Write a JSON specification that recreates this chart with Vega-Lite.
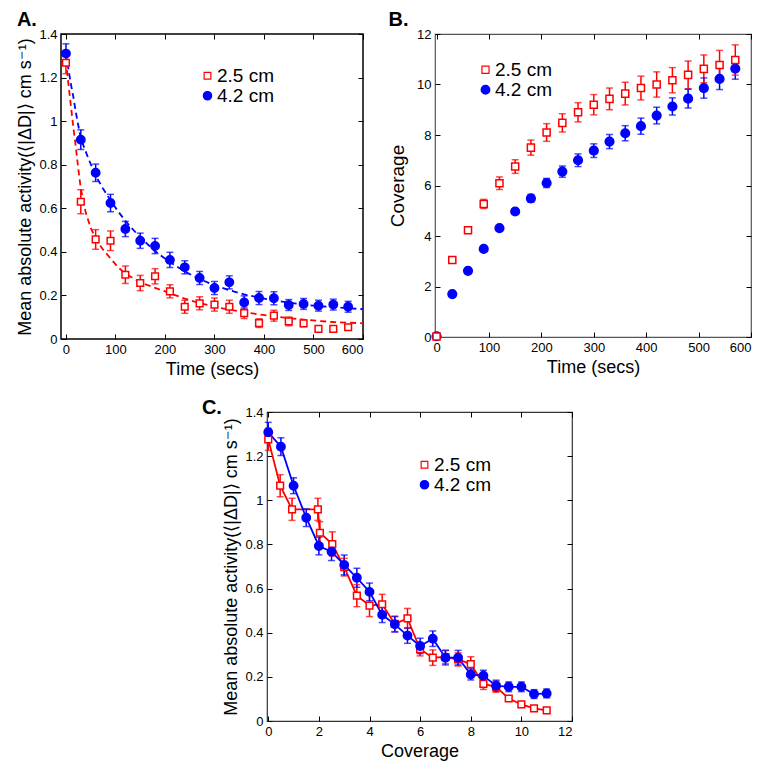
{
  "$schema": "https://vega.github.io/schema/vega-lite/v6.json",
  "padding": {"left": 16, "top": 9, "right": 5, "bottom": 5},
  "background": "white",
  "config": {
    "font": "Liberation Sans",
    "axis": {"domain": false, "grid": false, "labelFontSize": 13, "labelColor": "black", "titleFontSize": 18, "titleFontWeight": "normal", "titleColor": "black", "tickColor": "black", "tickSize": -5, "tickWidth": 1, "labelPadding": 9, "titlePadding": 4},
    "title": {"fontSize": 20, "fontWeight": "bold", "anchor": "start", "color": "black"},
    "legend": {"labelFontSize": 19, "labelColor": "black", "symbolStrokeWidth": 1.2, "symbolOpacity": 1, "rowPadding": 0, "clipHeight": 17.5, "labelOffset": 0, "padding": 0}
  },
  "datasets": {
    "tA": [
      {"t": 0, "s": "4.2 cm", "y": 1.31, "lo": 1.265, "hi": 1.355},
      {"t": 30, "s": "4.2 cm", "y": 0.915, "lo": 0.87, "hi": 0.96},
      {"t": 60, "s": "4.2 cm", "y": 0.763, "lo": 0.723, "hi": 0.803},
      {"t": 90, "s": "4.2 cm", "y": 0.624, "lo": 0.584, "hi": 0.664},
      {"t": 120, "s": "4.2 cm", "y": 0.505, "lo": 0.47, "hi": 0.54},
      {"t": 150, "s": "4.2 cm", "y": 0.451, "lo": 0.416, "hi": 0.486},
      {"t": 180, "s": "4.2 cm", "y": 0.427, "lo": 0.392, "hi": 0.462},
      {"t": 210, "s": "4.2 cm", "y": 0.363, "lo": 0.328, "hi": 0.398},
      {"t": 240, "s": "4.2 cm", "y": 0.329, "lo": 0.299, "hi": 0.359},
      {"t": 270, "s": "4.2 cm", "y": 0.28, "lo": 0.25, "hi": 0.31},
      {"t": 300, "s": "4.2 cm", "y": 0.234, "lo": 0.204, "hi": 0.264},
      {"t": 330, "s": "4.2 cm", "y": 0.26, "lo": 0.23, "hi": 0.29},
      {"t": 360, "s": "4.2 cm", "y": 0.168, "lo": 0.138, "hi": 0.198},
      {"t": 390, "s": "4.2 cm", "y": 0.188, "lo": 0.158, "hi": 0.218},
      {"t": 420, "s": "4.2 cm", "y": 0.187, "lo": 0.157, "hi": 0.217},
      {"t": 450, "s": "4.2 cm", "y": 0.156, "lo": 0.131, "hi": 0.181},
      {"t": 480, "s": "4.2 cm", "y": 0.161, "lo": 0.136, "hi": 0.186},
      {"t": 510, "s": "4.2 cm", "y": 0.153, "lo": 0.128, "hi": 0.178},
      {"t": 540, "s": "4.2 cm", "y": 0.158, "lo": 0.133, "hi": 0.183},
      {"t": 570, "s": "4.2 cm", "y": 0.148, "lo": 0.123, "hi": 0.173},
      {"t": 0, "s": "2.5 cm", "y": 1.268, "lo": 1.218, "hi": 1.318},
      {"t": 30, "s": "2.5 cm", "y": 0.63, "lo": 0.575, "hi": 0.685},
      {"t": 60, "s": "2.5 cm", "y": 0.457, "lo": 0.412, "hi": 0.502},
      {"t": 90, "s": "2.5 cm", "y": 0.451, "lo": 0.406, "hi": 0.496},
      {"t": 120, "s": "2.5 cm", "y": 0.295, "lo": 0.255, "hi": 0.335},
      {"t": 150, "s": "2.5 cm", "y": 0.257, "lo": 0.222, "hi": 0.292},
      {"t": 180, "s": "2.5 cm", "y": 0.288, "lo": 0.253, "hi": 0.323},
      {"t": 210, "s": "2.5 cm", "y": 0.219, "lo": 0.189, "hi": 0.249},
      {"t": 240, "s": "2.5 cm", "y": 0.148, "lo": 0.118, "hi": 0.178},
      {"t": 270, "s": "2.5 cm", "y": 0.164, "lo": 0.134, "hi": 0.194},
      {"t": 300, "s": "2.5 cm", "y": 0.158, "lo": 0.128, "hi": 0.188},
      {"t": 330, "s": "2.5 cm", "y": 0.148, "lo": 0.118, "hi": 0.178},
      {"t": 360, "s": "2.5 cm", "y": 0.119, "lo": 0.094, "hi": 0.144},
      {"t": 390, "s": "2.5 cm", "y": 0.073, "lo": 0.053, "hi": 0.093},
      {"t": 420, "s": "2.5 cm", "y": 0.107, "lo": 0.082, "hi": 0.132},
      {"t": 450, "s": "2.5 cm", "y": 0.081, "lo": 0.061, "hi": 0.101},
      {"t": 480, "s": "2.5 cm", "y": 0.072, "lo": 0.057, "hi": 0.087},
      {"t": 510, "s": "2.5 cm", "y": 0.046, "lo": 0.036, "hi": 0.056},
      {"t": 540, "s": "2.5 cm", "y": 0.046, "lo": 0.036, "hi": 0.056},
      {"t": 570, "s": "2.5 cm", "y": 0.054, "lo": 0.044, "hi": 0.064}
    ],
    "fitA": [
      {"t": 0, "s": "4.2 cm", "y": 1.31}, {"t": 5, "s": "4.2 cm", "y": 1.24}, {"t": 10, "s": "4.2 cm", "y": 1.17}, {"t": 15, "s": "4.2 cm", "y": 1.11}, {"t": 20, "s": "4.2 cm", "y": 1.04}, {"t": 25, "s": "4.2 cm", "y": 0.98}, {"t": 30, "s": "4.2 cm", "y": 0.92}, {"t": 45, "s": "4.2 cm", "y": 0.83}, {"t": 60, "s": "4.2 cm", "y": 0.75}, {"t": 75, "s": "4.2 cm", "y": 0.69}, {"t": 90, "s": "4.2 cm", "y": 0.636}, {"t": 105, "s": "4.2 cm", "y": 0.587}, {"t": 120, "s": "4.2 cm", "y": 0.542}, {"t": 150, "s": "4.2 cm", "y": 0.466}, {"t": 180, "s": "4.2 cm", "y": 0.403}, {"t": 210, "s": "4.2 cm", "y": 0.353}, {"t": 240, "s": "4.2 cm", "y": 0.31}, {"t": 270, "s": "4.2 cm", "y": 0.275}, {"t": 300, "s": "4.2 cm", "y": 0.247}, {"t": 330, "s": "4.2 cm", "y": 0.224}, {"t": 360, "s": "4.2 cm", "y": 0.205}, {"t": 390, "s": "4.2 cm", "y": 0.19}, {"t": 420, "s": "4.2 cm", "y": 0.177}, {"t": 450, "s": "4.2 cm", "y": 0.167}, {"t": 480, "s": "4.2 cm", "y": 0.158}, {"t": 510, "s": "4.2 cm", "y": 0.151}, {"t": 540, "s": "4.2 cm", "y": 0.146}, {"t": 570, "s": "4.2 cm", "y": 0.141}, {"t": 600, "s": "4.2 cm", "y": 0.137},
      {"t": 0, "s": "2.5 cm", "y": 1.28}, {"t": 5, "s": "2.5 cm", "y": 1.17}, {"t": 10, "s": "2.5 cm", "y": 1.07}, {"t": 15, "s": "2.5 cm", "y": 0.97}, {"t": 20, "s": "2.5 cm", "y": 0.88}, {"t": 25, "s": "2.5 cm", "y": 0.78}, {"t": 30, "s": "2.5 cm", "y": 0.69}, {"t": 40, "s": "2.5 cm", "y": 0.58}, {"t": 50, "s": "2.5 cm", "y": 0.51}, {"t": 60, "s": "2.5 cm", "y": 0.46}, {"t": 75, "s": "2.5 cm", "y": 0.41}, {"t": 90, "s": "2.5 cm", "y": 0.37}, {"t": 105, "s": "2.5 cm", "y": 0.33}, {"t": 120, "s": "2.5 cm", "y": 0.3}, {"t": 135, "s": "2.5 cm", "y": 0.28}, {"t": 150, "s": "2.5 cm", "y": 0.26}, {"t": 180, "s": "2.5 cm", "y": 0.235}, {"t": 210, "s": "2.5 cm", "y": 0.21}, {"t": 240, "s": "2.5 cm", "y": 0.185}, {"t": 270, "s": "2.5 cm", "y": 0.165}, {"t": 300, "s": "2.5 cm", "y": 0.148}, {"t": 330, "s": "2.5 cm", "y": 0.135}, {"t": 360, "s": "2.5 cm", "y": 0.123}, {"t": 390, "s": "2.5 cm", "y": 0.113}, {"t": 420, "s": "2.5 cm", "y": 0.104}, {"t": 450, "s": "2.5 cm", "y": 0.096}, {"t": 480, "s": "2.5 cm", "y": 0.089}, {"t": 510, "s": "2.5 cm", "y": 0.083}, {"t": 540, "s": "2.5 cm", "y": 0.078}, {"t": 570, "s": "2.5 cm", "y": 0.075}, {"t": 600, "s": "2.5 cm", "y": 0.072}
    ],
    "tB": [
      {"t": 0, "s": "4.2 cm", "y": 0.03, "lo": 0.03, "hi": 0.03},
      {"t": 30, "s": "4.2 cm", "y": 1.7, "lo": 1.67, "hi": 1.73},
      {"t": 60, "s": "4.2 cm", "y": 2.62, "lo": 2.57, "hi": 2.67},
      {"t": 90, "s": "4.2 cm", "y": 3.49, "lo": 3.44, "hi": 3.54},
      {"t": 120, "s": "4.2 cm", "y": 4.31, "lo": 4.25, "hi": 4.37},
      {"t": 150, "s": "4.2 cm", "y": 4.97, "lo": 4.87, "hi": 5.07},
      {"t": 180, "s": "4.2 cm", "y": 5.49, "lo": 5.34, "hi": 5.64},
      {"t": 210, "s": "4.2 cm", "y": 6.1, "lo": 5.92, "hi": 6.28},
      {"t": 240, "s": "4.2 cm", "y": 6.55, "lo": 6.33, "hi": 6.77},
      {"t": 270, "s": "4.2 cm", "y": 7.0, "lo": 6.75, "hi": 7.25},
      {"t": 300, "s": "4.2 cm", "y": 7.38, "lo": 7.11, "hi": 7.65},
      {"t": 330, "s": "4.2 cm", "y": 7.74, "lo": 7.46, "hi": 8.02},
      {"t": 360, "s": "4.2 cm", "y": 8.07, "lo": 7.77, "hi": 8.37},
      {"t": 390, "s": "4.2 cm", "y": 8.35, "lo": 8.03, "hi": 8.67},
      {"t": 420, "s": "4.2 cm", "y": 8.77, "lo": 8.44, "hi": 9.1},
      {"t": 450, "s": "4.2 cm", "y": 9.13, "lo": 8.79, "hi": 9.47},
      {"t": 480, "s": "4.2 cm", "y": 9.44, "lo": 9.07, "hi": 9.81},
      {"t": 510, "s": "4.2 cm", "y": 9.86, "lo": 9.46, "hi": 10.26},
      {"t": 540, "s": "4.2 cm", "y": 10.22, "lo": 9.8, "hi": 10.64},
      {"t": 570, "s": "4.2 cm", "y": 10.63, "lo": 10.21, "hi": 11.05},
      {"t": 0, "s": "2.5 cm", "y": 0.02, "lo": 0.02, "hi": 0.02},
      {"t": 30, "s": "2.5 cm", "y": 3.05, "lo": 3.0, "hi": 3.1},
      {"t": 60, "s": "2.5 cm", "y": 4.23, "lo": 4.13, "hi": 4.33},
      {"t": 90, "s": "2.5 cm", "y": 5.27, "lo": 5.09, "hi": 5.45},
      {"t": 120, "s": "2.5 cm", "y": 6.09, "lo": 5.84, "hi": 6.34},
      {"t": 150, "s": "2.5 cm", "y": 6.75, "lo": 6.48, "hi": 7.02},
      {"t": 180, "s": "2.5 cm", "y": 7.5, "lo": 7.2, "hi": 7.8},
      {"t": 210, "s": "2.5 cm", "y": 8.1, "lo": 7.75, "hi": 8.45},
      {"t": 240, "s": "2.5 cm", "y": 8.48, "lo": 8.12, "hi": 8.84},
      {"t": 270, "s": "2.5 cm", "y": 8.9, "lo": 8.52, "hi": 9.28},
      {"t": 300, "s": "2.5 cm", "y": 9.2, "lo": 8.8, "hi": 9.6},
      {"t": 330, "s": "2.5 cm", "y": 9.43, "lo": 9.0, "hi": 9.86},
      {"t": 360, "s": "2.5 cm", "y": 9.64, "lo": 9.19, "hi": 10.09},
      {"t": 390, "s": "2.5 cm", "y": 9.86, "lo": 9.39, "hi": 10.33},
      {"t": 420, "s": "2.5 cm", "y": 10.0, "lo": 9.5, "hi": 10.5},
      {"t": 450, "s": "2.5 cm", "y": 10.17, "lo": 9.67, "hi": 10.67},
      {"t": 480, "s": "2.5 cm", "y": 10.38, "lo": 9.83, "hi": 10.93},
      {"t": 510, "s": "2.5 cm", "y": 10.62, "lo": 10.07, "hi": 11.17},
      {"t": 540, "s": "2.5 cm", "y": 10.77, "lo": 10.19, "hi": 11.35},
      {"t": 570, "s": "2.5 cm", "y": 10.97, "lo": 10.37, "hi": 11.57}
    ],
    "cC": [
      {"c": 0, "s": "2.5 cm", "y": 1.276, "lo": 1.226, "hi": 1.326},
      {"c": 0.47, "s": "2.5 cm", "y": 1.066, "lo": 1.016, "hi": 1.116},
      {"c": 0.94, "s": "2.5 cm", "y": 0.959, "lo": 0.909, "hi": 1.009},
      {"c": 1.96, "s": "2.5 cm", "y": 0.959, "lo": 0.909, "hi": 1.009},
      {"c": 2.04, "s": "2.5 cm", "y": 0.853, "lo": 0.803, "hi": 0.903},
      {"c": 2.53, "s": "2.5 cm", "y": 0.802, "lo": 0.747, "hi": 0.857},
      {"c": 3.0, "s": "2.5 cm", "y": 0.697, "lo": 0.657, "hi": 0.737},
      {"c": 3.5, "s": "2.5 cm", "y": 0.568, "lo": 0.518, "hi": 0.618},
      {"c": 4.0, "s": "2.5 cm", "y": 0.523, "lo": 0.473, "hi": 0.573},
      {"c": 4.5, "s": "2.5 cm", "y": 0.529, "lo": 0.484, "hi": 0.574},
      {"c": 5.0, "s": "2.5 cm", "y": 0.44, "lo": 0.405, "hi": 0.475},
      {"c": 5.5, "s": "2.5 cm", "y": 0.465, "lo": 0.42, "hi": 0.51},
      {"c": 6.0, "s": "2.5 cm", "y": 0.325, "lo": 0.295, "hi": 0.355},
      {"c": 6.5, "s": "2.5 cm", "y": 0.287, "lo": 0.252, "hi": 0.322},
      {"c": 7.0, "s": "2.5 cm", "y": 0.29, "lo": 0.26, "hi": 0.32},
      {"c": 7.5, "s": "2.5 cm", "y": 0.279, "lo": 0.249, "hi": 0.309},
      {"c": 8.0, "s": "2.5 cm", "y": 0.258, "lo": 0.225, "hi": 0.291},
      {"c": 8.5, "s": "2.5 cm", "y": 0.168, "lo": 0.143, "hi": 0.193},
      {"c": 9.0, "s": "2.5 cm", "y": 0.155, "lo": 0.13, "hi": 0.18},
      {"c": 9.5, "s": "2.5 cm", "y": 0.102, "lo": 0.09, "hi": 0.114},
      {"c": 10.0, "s": "2.5 cm", "y": 0.075, "lo": 0.065, "hi": 0.085},
      {"c": 10.5, "s": "2.5 cm", "y": 0.057, "lo": 0.049, "hi": 0.065},
      {"c": 11.0, "s": "2.5 cm", "y": 0.048, "lo": 0.042, "hi": 0.054},
      {"c": 0, "s": "4.2 cm", "y": 1.308, "lo": 1.263, "hi": 1.353},
      {"c": 0.5, "s": "4.2 cm", "y": 1.243, "lo": 1.203, "hi": 1.283},
      {"c": 1.0, "s": "4.2 cm", "y": 1.066, "lo": 1.03, "hi": 1.102},
      {"c": 1.5, "s": "4.2 cm", "y": 0.921, "lo": 0.881, "hi": 0.961},
      {"c": 2.0, "s": "4.2 cm", "y": 0.793, "lo": 0.753, "hi": 0.833},
      {"c": 2.5, "s": "4.2 cm", "y": 0.767, "lo": 0.727, "hi": 0.807},
      {"c": 3.0, "s": "4.2 cm", "y": 0.707, "lo": 0.662, "hi": 0.752},
      {"c": 3.5, "s": "4.2 cm", "y": 0.649, "lo": 0.606, "hi": 0.692},
      {"c": 4.0, "s": "4.2 cm", "y": 0.585, "lo": 0.545, "hi": 0.625},
      {"c": 4.5, "s": "4.2 cm", "y": 0.481, "lo": 0.446, "hi": 0.516},
      {"c": 5.0, "s": "4.2 cm", "y": 0.438, "lo": 0.403, "hi": 0.473},
      {"c": 5.5, "s": "4.2 cm", "y": 0.387, "lo": 0.352, "hi": 0.422},
      {"c": 6.0, "s": "4.2 cm", "y": 0.34, "lo": 0.305, "hi": 0.375},
      {"c": 6.5, "s": "4.2 cm", "y": 0.373, "lo": 0.338, "hi": 0.408},
      {"c": 7.0, "s": "4.2 cm", "y": 0.287, "lo": 0.254, "hi": 0.32},
      {"c": 7.5, "s": "4.2 cm", "y": 0.287, "lo": 0.254, "hi": 0.32},
      {"c": 8.0, "s": "4.2 cm", "y": 0.211, "lo": 0.186, "hi": 0.236},
      {"c": 8.5, "s": "4.2 cm", "y": 0.205, "lo": 0.18, "hi": 0.23},
      {"c": 9.0, "s": "4.2 cm", "y": 0.16, "lo": 0.135, "hi": 0.185},
      {"c": 9.5, "s": "4.2 cm", "y": 0.155, "lo": 0.133, "hi": 0.177},
      {"c": 10.0, "s": "4.2 cm", "y": 0.155, "lo": 0.133, "hi": 0.177},
      {"c": 10.5, "s": "4.2 cm", "y": 0.122, "lo": 0.102, "hi": 0.142},
      {"c": 11.0, "s": "4.2 cm", "y": 0.125, "lo": 0.105, "hi": 0.145}
    ]
  },
  "vconcat": [
    {
      "hconcat": [
        {
          "title": {"text": "A.", "offset": -2},
          "width": 302, "height": 305,
          "view": {"stroke": "black", "strokeWidth": 1.5},
          "layer": [
            {
              "data": {"name": "fitA"},
              "mark": {"type": "line", "strokeDash": [6, 4], "strokeWidth": 1.8},
              "encoding": {
                "x": {"field": "t", "type": "quantitative", "scale": {"domain": [-10, 600], "nice": false}, "axis": {"orient": "bottom", "values": [0, 100, 200, 300, 400, 500, 600], "title": "Time (secs)"}},
                "y": {"field": "y", "type": "quantitative", "scale": {"domain": [0, 1.4], "nice": false}, "axis": {"orient": "left", "values": [0, 0.2, 0.4, 0.6, 0.8, 1, 1.2, 1.4], "format": "~g", "title": "Mean absolute activity(⟨|ΔD|⟩ cm s⁻¹)"}},
                "color": {"field": "s", "type": "nominal", "scale": {"range": ["#ff0000", "#0000ff"]}, "legend": null}
              }
            },
            {
              "data": {"name": "tA"},
              "mark": {"type": "rule", "strokeWidth": 1.5},
              "encoding": {
                "x": {"field": "t", "type": "quantitative", "axis": {"orient": "top", "values": [0, 100, 200, 300, 400, 500, 600], "labels": false, "title": null}},
                "y": {"field": "lo", "type": "quantitative", "axis": {"orient": "right", "values": [0, 0.2, 0.4, 0.6, 0.8, 1, 1.2, 1.4], "labels": false, "title": null}},
                "y2": {"field": "hi"},
                "color": {"field": "s", "type": "nominal", "legend": null}
              }
            },
            {
              "data": {"name": "tA"},
              "mark": {"type": "tick", "orient": "horizontal", "size": 7, "thickness": 1.5},
              "encoding": {
                "x": {"field": "t", "type": "quantitative", "axis": null},
                "y": {"field": "lo", "type": "quantitative", "axis": null},
                "color": {"field": "s", "type": "nominal", "legend": null}
              }
            },
            {
              "data": {"name": "tA"},
              "mark": {"type": "tick", "orient": "horizontal", "size": 7, "thickness": 1.5},
              "encoding": {
                "x": {"field": "t", "type": "quantitative", "axis": null},
                "y": {"field": "hi", "type": "quantitative", "axis": null},
                "color": {"field": "s", "type": "nominal", "legend": null}
              }
            },
            {
              "data": {"name": "tA"},
              "mark": {"type": "point", "filled": true, "strokeWidth": 1.5, "opacity": 1},
              "encoding": {
                "x": {"field": "t", "type": "quantitative", "axis": null},
                "y": {"field": "y", "type": "quantitative", "axis": null},
                "shape": {"field": "s", "type": "nominal", "scale": {"domain": ["2.5 cm", "4.2 cm"], "range": ["square", "circle"]}, "legend": {"orient": "none", "title": null, "legendX": 137, "legendY": 33}},
                "fill": {"field": "s", "type": "nominal", "scale": {"domain": ["2.5 cm", "4.2 cm"], "range": ["white", "#0000ff"]}, "legend": {"orient": "none", "title": null, "legendX": 137, "legendY": 33}},
                "stroke": {"field": "s", "type": "nominal", "scale": {"domain": ["2.5 cm", "4.2 cm"], "range": ["#ff0000", "#0000ff"]}, "legend": {"orient": "none", "title": null, "legendX": 137, "legendY": 33}},
                "size": {"field": "s", "type": "nominal", "scale": {"domain": ["2.5 cm", "4.2 cm"], "range": [45, 70]}, "legend": {"orient": "none", "title": null, "legendX": 137, "legendY": 33}}
              }
            }
          ],
          "resolve": {"axis": {"x": "independent", "y": "independent"}}
        },
        {
          "title": {"text": "B.", "offset": -2},
          "width": 316, "height": 303,
          "view": {"stroke": "#555555", "strokeWidth": 1.2},
          "layer": [
            {
              "data": {"name": "tB"},
              "mark": {"type": "rule", "strokeWidth": 1.5},
              "encoding": {
                "x": {"field": "t", "type": "quantitative", "scale": {"domain": [-3, 600], "nice": false}, "axis": {"orient": "bottom", "values": [0, 100, 200, 300, 400, 500, 600], "title": "Time (secs)"}},
                "y": {"field": "lo", "type": "quantitative", "scale": {"domain": [0, 12], "nice": false}, "axis": {"orient": "left", "values": [0, 2, 4, 6, 8, 10, 12], "title": "Coverage", "titleFontSize": 19, "titlePadding": 9}},
                "y2": {"field": "hi"},
                "color": {"field": "s", "type": "nominal", "scale": {"range": ["#ff0000", "#0000ff"]}, "legend": null}
              }
            },
            {
              "data": {"name": "tB"},
              "mark": {"type": "tick", "orient": "horizontal", "size": 7, "thickness": 1.5},
              "encoding": {
                "x": {"field": "t", "type": "quantitative", "axis": {"orient": "top", "values": [0, 100, 200, 300, 400, 500, 600], "labels": false, "title": null}},
                "y": {"field": "lo", "type": "quantitative", "axis": {"orient": "right", "values": [0, 2, 4, 6, 8, 10, 12], "labels": false, "title": null}},
                "color": {"field": "s", "type": "nominal", "legend": null}
              }
            },
            {
              "data": {"name": "tB"},
              "mark": {"type": "tick", "orient": "horizontal", "size": 7, "thickness": 1.5},
              "encoding": {
                "x": {"field": "t", "type": "quantitative", "axis": null},
                "y": {"field": "hi", "type": "quantitative", "axis": null},
                "color": {"field": "s", "type": "nominal", "legend": null}
              }
            },
            {
              "data": {"name": "tB"},
              "mark": {"type": "point", "filled": true, "strokeWidth": 1.5, "opacity": 1},
              "encoding": {
                "x": {"field": "t", "type": "quantitative", "axis": null},
                "y": {"field": "y", "type": "quantitative", "axis": null},
                "shape": {"field": "s", "type": "nominal", "scale": {"domain": ["2.5 cm", "4.2 cm"], "range": ["square", "circle"]}, "legend": {"orient": "none", "title": null, "legendX": 41, "legendY": 27}},
                "fill": {"field": "s", "type": "nominal", "scale": {"domain": ["2.5 cm", "4.2 cm"], "range": ["white", "#0000ff"]}, "legend": {"orient": "none", "title": null, "legendX": 41, "legendY": 27}},
                "stroke": {"field": "s", "type": "nominal", "scale": {"domain": ["2.5 cm", "4.2 cm"], "range": ["#ff0000", "#0000ff"]}, "legend": {"orient": "none", "title": null, "legendX": 41, "legendY": 27}},
                "size": {"field": "s", "type": "nominal", "scale": {"domain": ["2.5 cm", "4.2 cm"], "range": [50, 75]}, "legend": {"orient": "none", "title": null, "legendX": 41, "legendY": 27}}
              }
            }
          ],
          "resolve": {"axis": {"x": "independent", "y": "independent"}}
        }
      ],
      "spacing": 19,
      "resolve": {
        "scale": {"color": "independent", "fill": "independent", "stroke": "independent", "shape": "independent", "size": "independent"},
        "legend": {"color": "independent", "fill": "independent", "stroke": "independent", "shape": "independent", "size": "independent"}
      }
    },
    {
      "hconcat": [
        {
          "width": 130, "height": 20,
          "data": {"values": []},
          "mark": "point",
          "view": {"stroke": null}
        },
        {
          "title": {"text": "C.", "offset": -12, "dx": -21},
          "width": 305, "height": 309,
          "view": {"stroke": "#333333", "strokeWidth": 1.2},
          "layer": [
            {
              "data": {"name": "cC"},
              "mark": {"type": "line", "strokeWidth": 1.8},
              "encoding": {
                "x": {"field": "c", "type": "quantitative", "scale": {"domain": [-0.05, 12], "nice": false}, "axis": {"orient": "bottom", "values": [0, 2, 4, 6, 8, 10, 12], "title": "Coverage"}},
                "y": {"field": "y", "type": "quantitative", "scale": {"domain": [0, 1.4], "nice": false}, "axis": {"orient": "left", "values": [0, 0.2, 0.4, 0.6, 0.8, 1, 1.2, 1.4], "format": "~g", "title": "Mean absolute activity(⟨|ΔD|⟩ cm s⁻¹)"}},
                "color": {"field": "s", "type": "nominal", "scale": {"range": ["#ff0000", "#0000ff"]}, "legend": null}
              }
            },
            {
              "data": {"name": "cC"},
              "mark": {"type": "rule", "strokeWidth": 1.5},
              "encoding": {
                "x": {"field": "c", "type": "quantitative", "axis": {"orient": "top", "values": [0, 2, 4, 6, 8, 10, 12], "labels": false, "title": null}},
                "y": {"field": "lo", "type": "quantitative", "axis": {"orient": "right", "values": [0, 0.2, 0.4, 0.6, 0.8, 1, 1.2, 1.4], "labels": false, "title": null}},
                "y2": {"field": "hi"},
                "color": {"field": "s", "type": "nominal", "legend": null}
              }
            },
            {
              "data": {"name": "cC"},
              "mark": {"type": "tick", "orient": "horizontal", "size": 7, "thickness": 1.5},
              "encoding": {
                "x": {"field": "c", "type": "quantitative", "axis": null},
                "y": {"field": "lo", "type": "quantitative", "axis": null},
                "color": {"field": "s", "type": "nominal", "legend": null}
              }
            },
            {
              "data": {"name": "cC"},
              "mark": {"type": "tick", "orient": "horizontal", "size": 7, "thickness": 1.5},
              "encoding": {
                "x": {"field": "c", "type": "quantitative", "axis": null},
                "y": {"field": "hi", "type": "quantitative", "axis": null},
                "color": {"field": "s", "type": "nominal", "legend": null}
              }
            },
            {
              "data": {"name": "cC"},
              "mark": {"type": "point", "filled": true, "strokeWidth": 1.5, "opacity": 1},
              "encoding": {
                "x": {"field": "c", "type": "quantitative", "axis": null},
                "y": {"field": "y", "type": "quantitative", "axis": null},
                "shape": {"field": "s", "type": "nominal", "scale": {"domain": ["2.5 cm", "4.2 cm"], "range": ["square", "circle"]}, "legend": {"orient": "none", "title": null, "legendX": 148, "legendY": 44}},
                "fill": {"field": "s", "type": "nominal", "scale": {"domain": ["2.5 cm", "4.2 cm"], "range": ["white", "#0000ff"]}, "legend": {"orient": "none", "title": null, "legendX": 148, "legendY": 44}},
                "stroke": {"field": "s", "type": "nominal", "scale": {"domain": ["2.5 cm", "4.2 cm"], "range": ["#ff0000", "#0000ff"]}, "legend": {"orient": "none", "title": null, "legendX": 148, "legendY": 44}},
                "size": {"field": "s", "type": "nominal", "scale": {"domain": ["2.5 cm", "4.2 cm"], "range": [45, 70]}, "legend": {"orient": "none", "title": null, "legendX": 148, "legendY": 44}}
              }
            }
          ],
          "resolve": {"axis": {"x": "independent", "y": "independent"}}
        }
      ],
      "spacing": 10,
      "resolve": {
        "scale": {"color": "independent", "fill": "independent", "stroke": "independent", "shape": "independent", "size": "independent"},
        "legend": {"color": "independent", "fill": "independent", "stroke": "independent", "shape": "independent", "size": "independent"}
      }
    }
  ],
  "spacing": 18,
  "resolve": {
    "scale": {"color": "independent", "fill": "independent", "stroke": "independent", "shape": "independent", "size": "independent"},
    "legend": {"color": "independent", "fill": "independent", "stroke": "independent", "shape": "independent", "size": "independent"}
  }
}
